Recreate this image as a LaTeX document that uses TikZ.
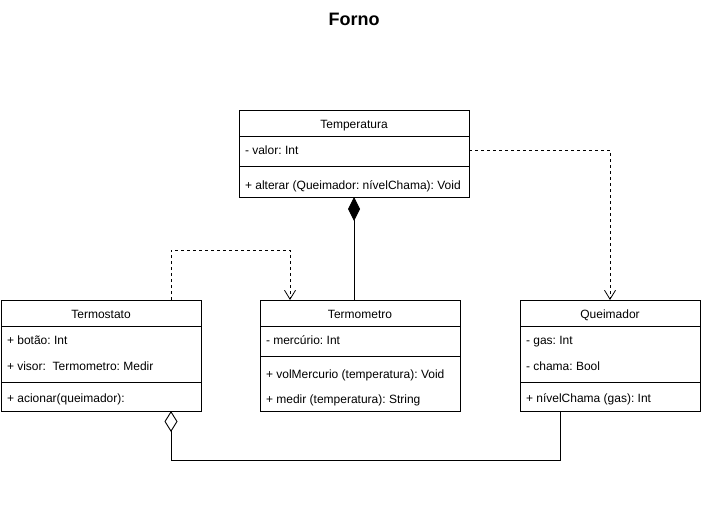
\documentclass[tikz,border=0pt]{standalone}
\usepackage{fontspec}
\setmainfont{Liberation Sans}
\usetikzlibrary{arrows.meta}
\frenchspacing
\begin{document}
\begin{tikzpicture}[x=1pt,y=-1pt,
  every node/.style={font=\fontsize{12}{14}\selectfont, inner sep=0pt, outer sep=0pt},
  cls/.style={draw, line width=0.9pt, anchor=north west, minimum width=#1, fill=white},
  attr/.style={anchor=mid west, yshift=-1.5pt},
  ttl/.style={anchor=mid, yshift=-1.5pt},
  dvd/.style={line width=0.9pt},
  dep/.style={dashed, dash pattern=on 3pt off 3pt, line width=0.8pt, -{Straight Barb[length=9pt,width=11pt,line width=0.8pt]}},
  comp/.style={line width=0.9pt, {Diamond[length=24pt,width=12pt]}-},
  aggr/.style={line width=0.9pt, {Diamond[open,length=21pt,width=13pt,line width=0.9pt]}-},
]
\useasboundingbox (0,0) rectangle (711,504);

% title
\node[font=\fontsize{18}{20}\selectfont\bfseries] (title) at (354,19) {Forno};

% Temperatura
\node[cls=230pt, minimum height=87pt] (temp) at (239,110) {};
\node[ttl] (tempT) at (354,124) {Temperatura};
\draw[dvd] (temp.west |- 0,136) -- (temp.east |- 0,136);
\node[attr] (temp1) at (245,150) {- valor: Int};
\draw[dvd] (temp.west |- 0,166) -- (temp.east |- 0,166);
\node[attr] (temp2) at (245,185) {+ alterar (Queimador: nívelChama): Void};

% Termostato
\node[cls=200pt, minimum height=111pt] (tsto) at (1,300) {};
\node[ttl] (tstoT) at (101,314) {Termostato};
\draw[dvd] (tsto.west |- 0,326) -- (tsto.east |- 0,326);
\node[attr] (tsto1) at (7,340) {+ botão: Int};
\node[attr] (tsto2) at (7,366) {+ visor:\ \ Termometro: Medir};
\draw[dvd] (tsto.west |- 0,382) -- (tsto.east |- 0,382);
\node[attr] (tsto3) at (7,398) {+ acionar(queimador):};

% Termometro
\node[cls=200pt, minimum height=111pt] (tmet) at (260,300) {};
\node[ttl] (tmetT) at (360,314) {Termometro};
\draw[dvd] (tmet.west |- 0,326) -- (tmet.east |- 0,326);
\node[attr] (tmet1) at (266,340) {- mercúrio: Int};
\draw[dvd] (tmet.west |- 0,356) -- (tmet.east |- 0,356);
\node[attr] (tmet2) at (266,374) {+ volMercurio (temperatura): Void};
\node[attr] (tmet3) at (266,399) {+ medir (temperatura): String};

% Queimador
\node[cls=180pt, minimum height=111pt] (quei) at (520,300) {};
\node[ttl] (queiT) at (610,314) {Queimador};
\draw[dvd] (quei.west |- 0,326) -- (quei.east |- 0,326);
\node[attr] (quei1) at (526,340) {- gas: Int};
\node[attr] (quei2) at (526,366) {- chama: Bool};
\draw[dvd] (quei.west |- 0,382) -- (quei.east |- 0,382);
\node[attr] (quei3) at (526,398) {+ nívelChama (gas): Int};

% coordinates for connectors
\coordinate (c1) at (171,250);
\coordinate (c2) at (290,250);
\coordinate (c3) at (610,150);
\coordinate (c4) at (171,460);
\coordinate (c5) at (560,460);

% composition Temperatura <>-- Termometro
\draw[comp] (temp.south) -- (temp.south |- tmet.north);

% dependency Termostato -> Termometro
\draw[dep] (c1 |- tsto.north) -- (c1) -- (c2) -- (c2 |- tmet.north);

% dependency Temperatura -> Queimador
\draw[dep] (temp.east |- c3) -- (c3) -- (c3 |- quei.north);

% aggregation Termostato <>-- Queimador
\draw[aggr] (c4 |- tsto.south) -- (c4) -- (c5) -- (c5 |- quei.south);
\end{tikzpicture}
\end{document}
